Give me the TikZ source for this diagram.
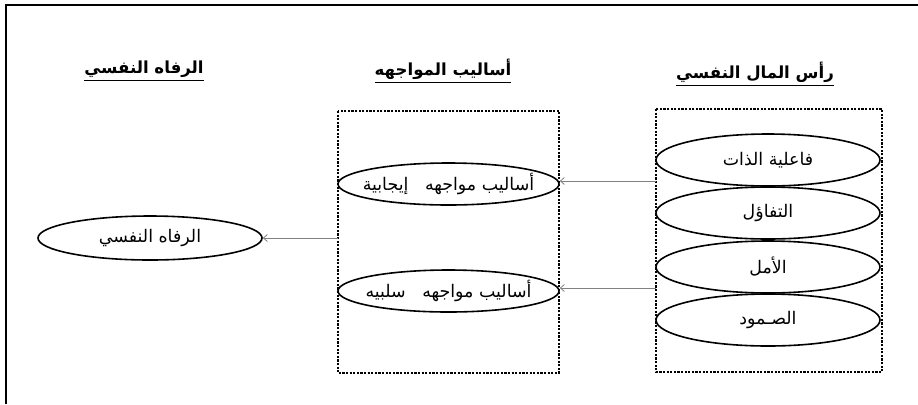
\documentclass[tikz,border=0pt]{standalone}
\usepackage{fontspec}
\usetikzlibrary{shapes.geometric,arrows.meta}
\newfontfamily\arabicfont[Script=Arabic]{DejaVu Sans}
\TeXXeTstate=1
\newcommand{\artext}[1]{\arabicfont\beginR #1\endR}
\newcommand{\artitle}[1]{\arabicfont\bfseries\underline{\beginR #1\endR}}
\tikzset{
  oval/.style={draw, ellipse, thick, fill=white, inner sep=0pt,
    minimum width=111pt, minimum height=26pt, font=\fontsize{8.7}{9}\selectfont},
  dashbox/.style={draw, line width=0.9pt, dash pattern=on 1.1pt off 0.7pt},
  link/.style={draw=gray, line width=0.4pt, -{Straight Barb[length=2pt,width=3.5pt]}},
  heading/.style={font=\fontsize{8.3}{10}\selectfont}
}

\begin{document}
\begin{tikzpicture}[x=0.5pt, y=-0.5pt]
    \useasboundingbox (0,0) rectangle (918,404);
    % outer frame, cut at right and bottom
    \draw[line width=1.1pt] (6,404) -- (6,5) -- (918,5);

    % headings
    \node[heading] (tpsy)  at (755,74) {\artitle{رأس المال النفسي}};
    \node[heading] (tcope) at (443,71) {\artitle{أساليب المواجهه}};
    \node[heading] (twell) at (144,71) {\artitle{الرفاه النفسي}};

    % boxes
    \draw[dashbox] (656,109) rectangle (882,372);
    \coordinate (psybox) at (656,240);
    \draw[dashbox] (338,111) rectangle (559,373);
    \coordinate (copebox) at (338,242);

    % right column
    \foreach \name/\yy/\txt in {self/160/{فاعلية الذات}, opt/213/{التفاؤل},
        hope/267/{الأمل}, resil/320/{الصـمود}} {
      \node[oval, minimum width=112pt] (\name) at (768,\yy) {\artext{\txt}};
    }

    % middle column
    \node[oval, inner xsep=-12pt, minimum width=110.5pt, minimum height=21pt] (pos)
      at (448.5,184) {\artext{أساليب مواجهه ~ إيجابية}};
    \node[oval, inner xsep=-12pt, minimum width=110.5pt, minimum height=21pt] (neg)
      at (448.5,291) {\artext{أساليب مواجهه ~ سلبيه}};

    % left
    \node[oval, minimum width=112pt, minimum height=22pt] (well) at (150,238) {\artext{الرفاه النفسي}};

    \draw[link] (psybox |- 0,181) -- (pos.east |- 0,181);
    \draw[link] (psybox |- 0,288) -- (neg.east |- 0,288);
    \draw[link] (copebox |- well.east) -- (well.east);
\end{tikzpicture}
\end{document}
